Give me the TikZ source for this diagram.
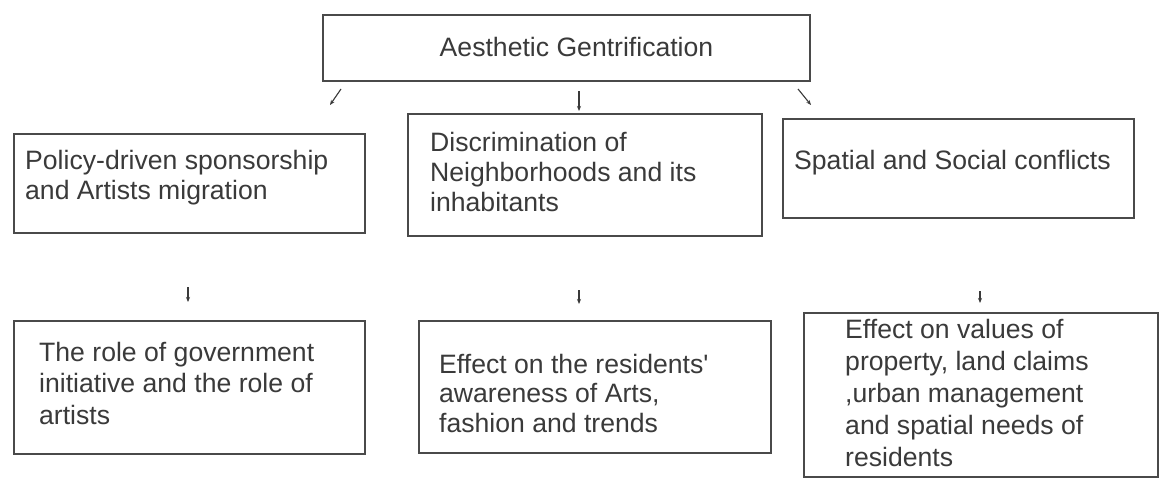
\documentclass[tikz,border=0pt]{standalone}
\usepackage{fontspec}
\setmainfont{Liberation Sans}
\usetikzlibrary{arrows.meta}
\definecolor{ink}{HTML}{3A3A3A}
\definecolor{edge}{HTML}{4A4A4A}
\tikzset{
  boxframe/.style={draw=edge, line width=1.8pt, inner sep=0pt},
  label/.style={inner sep=0pt, text=ink, align=left, anchor=base west},
  arr/.style={draw=ink, line width=1.1pt, -{Stealth[length=5pt,width=4pt]}}
}
\newcommand{\fsz}[1]{\fontsize{26.6}{#1}\selectfont}
\begin{document}
\begin{tikzpicture}[x=1pt,y=-1pt]
\useasboundingbox[fill=white] (0,0) rectangle (1166,479);
% boxes
\node[boxframe, minimum width=487pt, minimum height=66pt, anchor=north west] (top) at (322,14) {};
\node[boxframe, minimum width=351pt, minimum height=99pt, anchor=north west] (l1) at (13,133) {};
\node[boxframe, minimum width=351pt, minimum height=133pt, anchor=north west] (l2) at (13,320) {};
\node[boxframe, minimum width=354pt, minimum height=122pt, anchor=north west] (c1) at (407,113) {};
\node[boxframe, minimum width=352pt, minimum height=132pt, anchor=north west] (c2) at (418,320) {};
\node[boxframe, minimum width=351pt, minimum height=99pt, anchor=north west] (r1) at (782,118) {};
\node[boxframe, minimum width=354pt, minimum height=164pt, anchor=north west] (r2) at (803,312) {};
% texts (anchor = baseline of the last line)
\node[inner sep=0pt, text=ink, anchor=base, font=\fsz{30}] (ttop) at (576.5,56) {Aesthetic Gentrification};
\node[label, font=\fsz{30}] (tl1) at (25,199) {Policy-driven sponsorship\\and Artists migration};
\node[label, font=\fsz{31.5}] (tl2) at (39,424) {The role of government\\initiative and the role of\\artists};
\node[label, font=\fsz{30}] (tc1) at (430,211) {Discrimination of\\Neighborhoods and its\\inhabitants};
\node[label, font=\fsz{29.5}] (tc2) at (439,432) {Effect on the residents\textquotesingle\\awareness of Arts,\\fashion and trends};
\node[label, font=\fsz{30}] (tr1) at (794,169) {Spatial and Social conflicts};
\node[label, font=\fsz{32}] (tr2) at (845,466) {Effect on values of\\property, land claims\\,urban management\\and spatial needs of\\residents};
% arrow ends
\coordinate (a1s) at (341,89);  \coordinate (a1e) at (330,105);
\coordinate (a2s) at (579,91);  \coordinate (a2e) at (579,111);
\coordinate (a3s) at (798,89);  \coordinate (a3e) at (811,105);
\coordinate (a4s) at (188,287); \coordinate (a4e) at (188,302);
\coordinate (a5s) at (579,290); \coordinate (a5e) at (579,304);
\coordinate (a6s) at (980,291); \coordinate (a6e) at (980,303);
\draw[arr] (a1s) -- (a1e);
\draw[arr] (a2s) -- (a2e);
\draw[arr] (a3s) -- (a3e);
\draw[arr] (a4s) -- (a4e);
\draw[arr] (a5s) -- (a5e);
\draw[arr] (a6s) -- (a6e);
\end{tikzpicture}
\end{document}
